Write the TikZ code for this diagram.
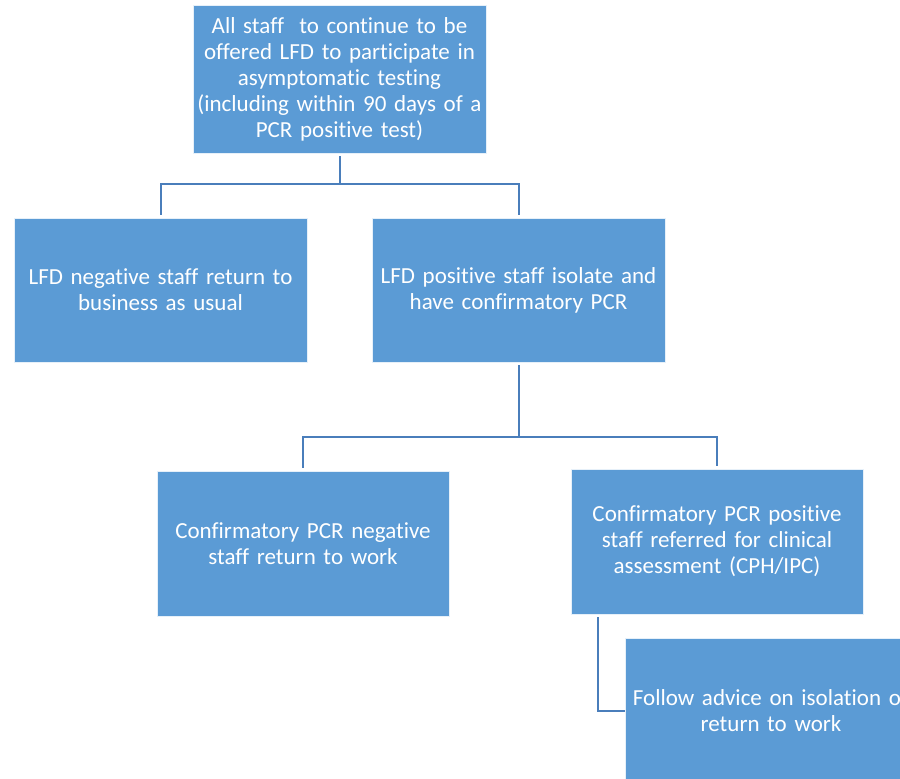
\documentclass[tikz,border=0pt]{standalone}
\usepackage{fontspec}
\setmainfont[Ligatures=NoCommon]{Carlito}
\usetikzlibrary{positioning}
\definecolor{boxblue}{HTML}{5B9BD5}
\definecolor{lineblue}{HTML}{4A7EBB}

\begin{document}
\begin{tikzpicture}[
    x=1pt, y=-1pt,
    font=\fontsize{23}{26}\selectfont,
    box/.style={fill=boxblue, draw=white!85!boxblue, line width=0.8pt, text=white, align=center,
        minimum width=293pt, minimum height=145pt, text width=290pt, inner sep=1pt},
    conn/.style={draw=lineblue, line width=2pt}
]
\useasboundingbox (0,0) rectangle (900,779);
\clip (0,0) rectangle (900,779);
\node[box, minimum height=148pt] (top) at (339.5,79) {All staff\ \ to continue to be\\offered LFD to participate in\\asymptomatic testing\\(including within 90 days of a\\PCR positive test)};
\node[box, minimum height=144pt] (lneg) at (160.5,290) {LFD negative staff return to\\business as usual};
\node[box, minimum height=144pt] (lpos) at (518.5,290) {LFD positive staff isolate and\\have confirmatory PCR};
\node[box, minimum width=292pt] (pcrneg) at (303,543.5) {Confirmatory PCR negative\\staff return to work};
\node[box, minimum width=292pt] (pcrpos) at (717,541.5) {Confirmatory PCR positive\\staff referred for clinical\\assessment (CPH/IPC)};
\node[box, minimum width=292pt] (follow) at (771,710.5) {Follow advice on isolation or\\return to work};
% connectors
\draw[conn] ([yshift=-3pt]top.south) -- ++(0,28) coordinate (j1);
\draw[conn] ([yshift=3pt]lneg.north) |- (j1) -| ([yshift=3pt]lpos.north);
\draw[conn] ([yshift=-3pt]lpos.south) -- ++(0,72) coordinate (j2);
\draw[conn] ([yshift=3pt]pcrneg.north) |- (j2) -| ([yshift=3pt]pcrpos.north);
\draw[conn] ([xshift=27pt,yshift=-3pt]pcrpos.south west) |- (follow.west);
\end{tikzpicture}
\end{document}
